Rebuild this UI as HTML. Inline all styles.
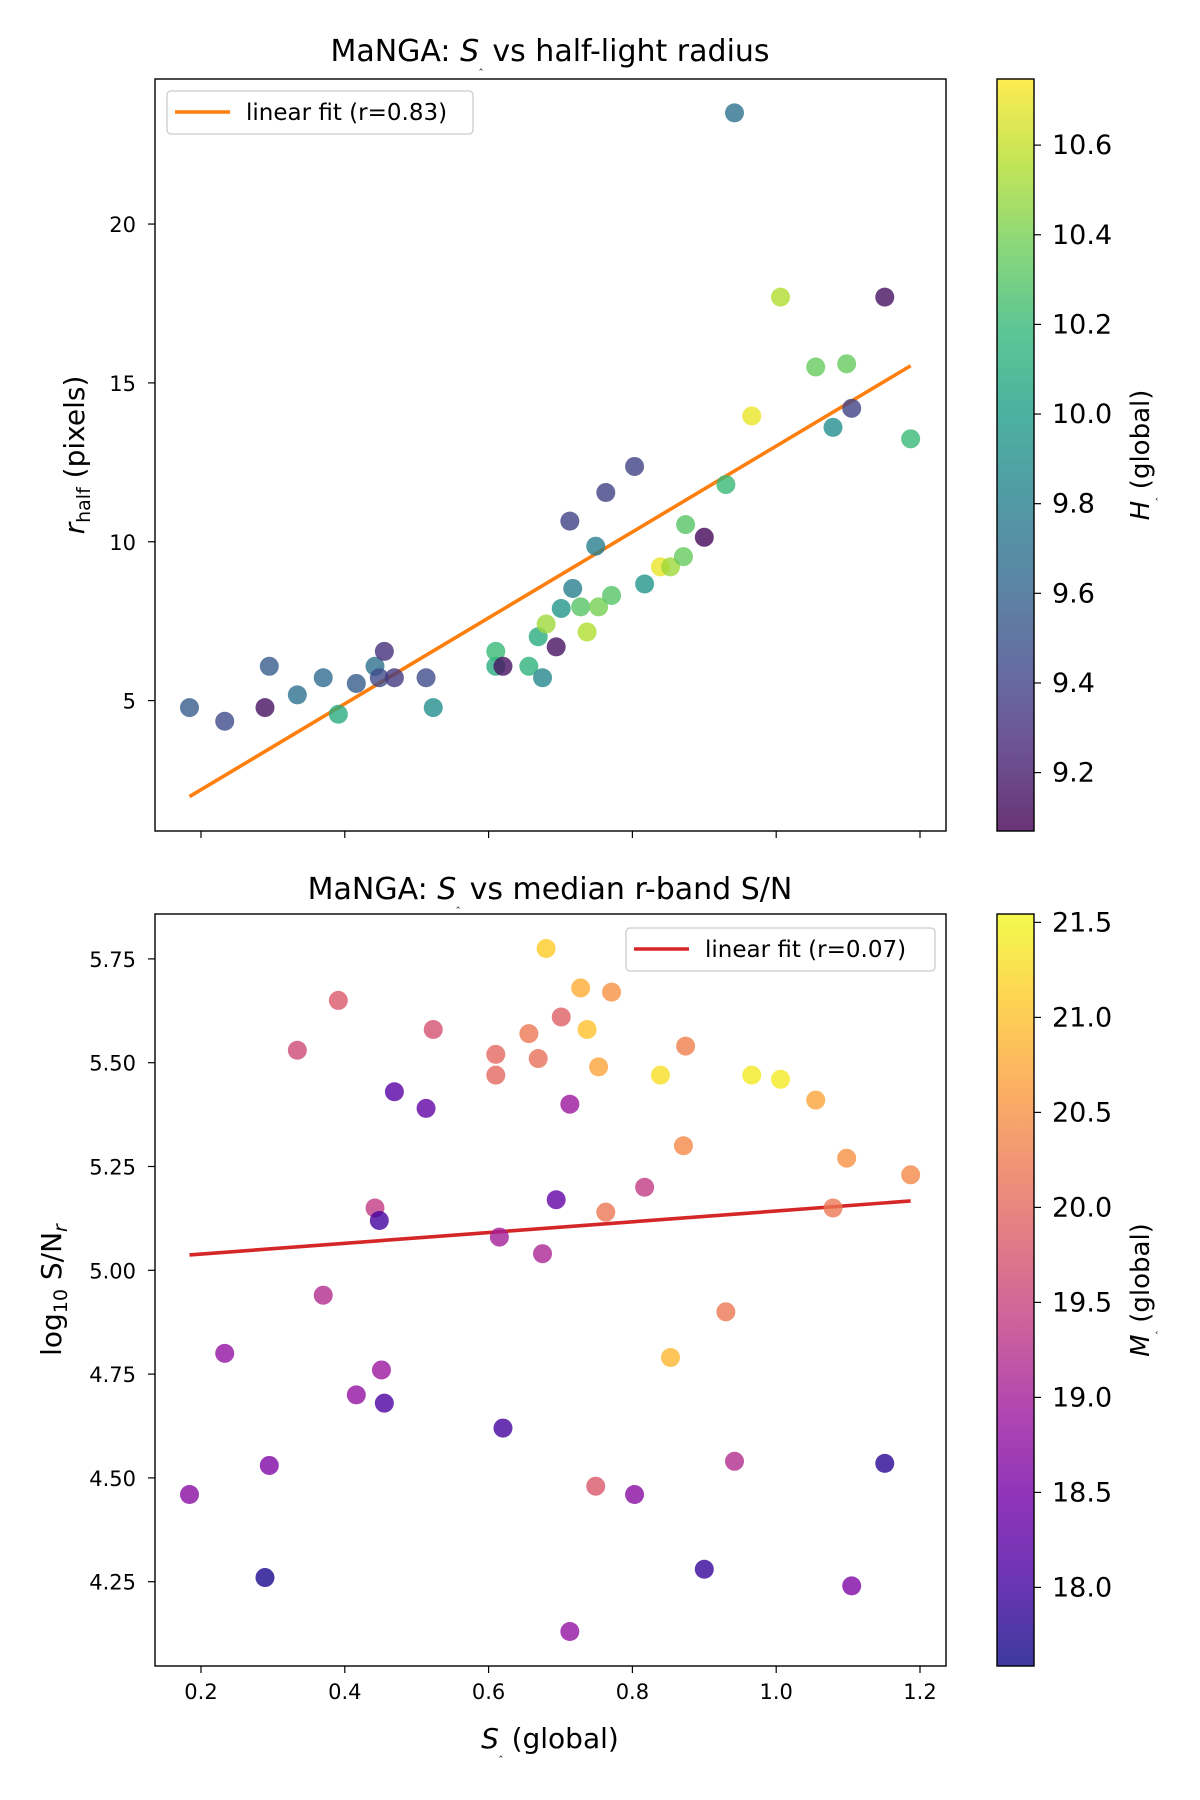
<!DOCTYPE html>
<html><head><meta charset="utf-8"><style>
html,body{margin:0;padding:0;background:#fff}
svg{display:block;font-family:"DejaVu Sans","Liberation Sans",sans-serif}
</style></head><body>
<svg id="c" width="1200" height="1800" viewBox="0 0 1200 1800" xmlns="http://www.w3.org/2000/svg">
<rect width="1200" height="1800" fill="#fff"/>
</svg>
<script>
// ---- data ----
const sTop = [0.184,0.233,0.289,0.295,0.334,0.37,0.391,0.416,0.442,0.448,0.455,0.469,0.513,0.523,0.61,0.61,0.62,0.656,0.669,0.675,0.68,0.694,0.701,0.713,0.717,0.728,0.737,0.749,0.753,0.763,0.771,0.803,0.817,0.839,0.853,0.871,0.874,0.9,0.93,0.942,0.966,1.006,1.055,1.079,1.098,1.105,1.151,1.187];
const rHalf = [4.78,4.35,4.78,6.08,5.18,5.72,4.57,5.54,6.08,5.72,6.55,5.72,5.72,4.78,6.08,6.55,6.08,6.08,7.01,5.72,7.41,6.69,7.9,10.65,8.53,7.95,7.16,9.86,7.95,11.55,8.31,12.37,8.67,9.21,9.21,9.53,10.54,10.14,11.8,23.5,13.96,17.7,15.5,13.6,15.6,14.2,17.7,13.24];
const hGlobal = [9.55,9.45,9.15,9.55,9.7,9.65,10.1,9.55,9.7,9.45,9.3,9.35,9.45,9.9,10.1,10.2,9.15,10.15,10.1,9.85,10.5,9.15,9.95,9.4,9.8,10.3,10.55,9.8,10.4,9.4,10.3,9.4,9.95,10.7,10.5,10.35,10.3,9.1,10.2,9.7,10.7,10.55,10.35,9.9,10.35,9.4,9.15,10.2];
const sBot = [0.184,0.233,0.289,0.295,0.334,0.37,0.391,0.416,0.442,0.448,0.451,0.455,0.469,0.513,0.523,0.61,0.61,0.615,0.62,0.656,0.669,0.675,0.68,0.694,0.701,0.713,0.713,0.728,0.737,0.749,0.753,0.763,0.771,0.803,0.817,0.839,0.853,0.871,0.874,0.9,0.93,0.942,0.966,1.006,1.055,1.079,1.098,1.105,1.151,1.187];
const snr = [4.46,4.80,4.26,4.53,5.53,4.94,5.65,4.70,5.15,5.12,4.76,4.68,5.43,5.39,5.58,5.52,5.47,5.08,4.62,5.57,5.51,5.04,5.775,5.17,5.61,5.40,4.13,5.68,5.58,4.48,5.49,5.14,5.67,4.46,5.20,5.47,4.79,5.30,5.54,4.28,4.90,4.54,5.47,5.46,5.41,5.15,5.27,4.24,4.535,5.23];
const mGlobal = [18.7,18.8,17.7,18.6,19.6,19.2,19.8,18.8,19.4,18.0,18.9,18.1,18.2,18.3,19.7,20.0,20.0,19.0,18.0,20.2,20.1,19.1,21.1,18.3,19.9,18.9,18.8,20.8,21.0,19.8,20.7,20.2,20.5,18.7,19.4,21.3,20.9,20.4,20.3,17.9,20.2,19.2,21.4,21.4,20.7,20.2,20.5,18.6,17.8,20.4];
const fitTopS = [0.184,1.187];
const fitTopR = [1.98,15.54];
const fitBotS = [0.184,1.187];
const fitBotV = [5.037,5.167];
const xTicks = [0.2,0.4,0.6,0.8,1.0,1.2];
const xTickLabels = ["0.2","0.4","0.6","0.8","1.0","1.2"];
const yTopTicks = [5,10,15,20];
const yBotTicks = [4.25,4.5,4.75,5.0,5.25,5.5,5.75];
const cbTopTicks = [9.2,9.4,9.6,9.8,10.0,10.2,10.4,10.6];
const cbBotTicks = [18.0,18.5,19.0,19.5,20.0,20.5,21.0,21.5];

// ---- scales ----
const X = s => 201 + (s - 0.2) * 719;
const YT = r => 700.6 - (r - 5) * 31.77;
const YB = v => 1581.7 - (v - 4.25) * 415.2;
const CT = v => 772.6 - (v - 9.2) * 448.2;
const CB = v => 1587.4 - (v - 18) * 190.0;
const hMin = 9.07, hMax = 10.748, mMin = 17.586, mMax = 21.544;

const viridis = [[68,1,84],[72,40,120],[62,74,137],[49,104,142],[38,130,142],[31,158,137],[53,183,121],[109,205,89],[180,222,44],[253,231,37]];
const plasma = [[13,8,135],[70,3,159],[114,1,168],[156,23,158],[189,55,134],[216,87,107],[237,121,83],[251,159,58],[253,202,38],[240,249,33]];
function cmap(stops, t){
  t = Math.max(0, Math.min(1, t));
  const f = t * (stops.length - 1), i = Math.min(Math.floor(f), stops.length - 2), u = f - i;
  const a = stops[i], b = stops[i+1];
  return `rgb(${a.map((v,k)=>Math.round(v+(b[k]-v)*u)).join(',')})`;
}

const NS = "http://www.w3.org/2000/svg";
const svg = document.getElementById('c');
function el(tag, attrs, parent){
  const e = document.createElementNS(NS, tag);
  for (const k in attrs) e.setAttribute(k, attrs[k]);
  (parent || svg).appendChild(e);
  return e;
}
function txt(x, y, s, size, anchor, parent, extra){
  const t = el('text', Object.assign({x:x, y:y, 'font-size':size, 'text-anchor':anchor||'middle', fill:'#000'}, extra||{}), parent);
  t.textContent = s;
  return t;
}

const defs = el('defs', {});
function grad(id, stops){
  const g = el('linearGradient', {id:id, x1:0, y1:1, x2:0, y2:0}, defs);
  stops.forEach((c,i)=>el('stop', {offset:(i/(stops.length-1)), 'stop-color':`rgb(${c.join(',')})`, 'stop-opacity':0.8}, g));
}
grad('gv', viridis); grad('gp', plasma);

function panel(name, y0, y1, yTicks, Yf, yFmt, showXLabels){
  const g = el('g', {});
  
  
  el('rect', {x:155, y:y0, width:791, height:y1-y0, fill:'none', stroke:'#000', 'stroke-width':1.4}, g);
  xTicks.forEach((v,i)=>{
    el('line', {x1:X(v), x2:X(v), y1:y1, y2:y1+7, stroke:'#000', 'stroke-width':1.2}, g);
    if (showXLabels){
      const t = txt(X(v), y1+33, xTickLabels[i], 21, 'middle', g);
      
      
    }
  });
  yTicks.forEach(v=>{
    el('line', {x1:148, x2:155, y1:Yf(v), y2:Yf(v), stroke:'#000', 'stroke-width':1.2}, g);
    const t = txt(136, Yf(v)+8, yFmt(v), 21, 'end', g);
    
    
  });
  return g;
}

// ---- top panel ----
const gTop = panel('top-axes', 79, 831, yTopTicks, YT, v=>String(v), false);
const lt = el('line', {x1:X(fitTopS[0]), y1:YT(fitTopR[0]), x2:X(fitTopS[1]), y2:YT(fitTopR[1]), stroke:'#ff7f0e', 'stroke-width':3.6});


sTop.forEach((s,i)=>{
  const c = el('circle', {cx:X(s), cy:YT(rHalf[i]), r:9.5, fill:cmap(viridis,(hGlobal[i]-hMin)/(hMax-hMin)), 'fill-opacity':0.8});
  
  
});

// ---- bottom panel ----
const gBot = panel('bottom-axes', 914, 1666, yBotTicks, YB, v=>v.toFixed(2), true);
const lb = el('line', {x1:X(fitBotS[0]), y1:YB(fitBotV[0]), x2:X(fitBotS[1]), y2:YB(fitBotV[1]), stroke:'#d62728', 'stroke-width':3.6});


sBot.forEach((s,i)=>{
  const c = el('circle', {cx:X(s), cy:YB(snr[i]), r:9.5, fill:cmap(plasma,(mGlobal[i]-mMin)/(mMax-mMin)), 'fill-opacity':0.8});
  
  
});

// ---- legends ----
function legend(name, x, y, w, color, label){
  const g = el('g', {});
  
  
  el('rect', {x:x, y:y, width:w, height:43, rx:4, fill:'#fff', 'fill-opacity':0.8, stroke:'#ccc', 'stroke-width':1.3}, g);
  el('line', {x1:x+8, x2:x+63, y1:y+21, y2:y+21, stroke:color, 'stroke-width':3.6}, g);
  txt(x+79, y+29, label, 23, 'start', g);
}
legend('legend-top', 167, 91, 306, '#ff7f0e', 'linear fit (r=0.83)');
legend('legend-bottom', 626, 928, 309, '#d62728', 'linear fit (r=0.07)');

// ---- colorbars ----
function colorbar(name, y0, y1, gid, ticks, Cf, fmt){
  const g = el('g', {});
  
  
  el('rect', {x:997, y:y0, width:37, height:y1-y0, fill:`url(#${gid})`, stroke:'#000', 'stroke-width':1.4}, g);
  ticks.forEach(v=>{
    el('line', {x1:1034, x2:1041, y1:Cf(v), y2:Cf(v), stroke:'#000', 'stroke-width':1.2}, g);
    txt(1052, Cf(v)+9, fmt(v), 27, 'start', g);
  });
}
colorbar('colorbar-h', 79, 831, 'gv', cbTopTicks, CT, v=>v.toFixed(1));
colorbar('colorbar-m', 914, 1666, 'gp', cbBotTicks, CB, v=>v.toFixed(1));
</script>
<script>
(function(){
  const svg = document.getElementById('c');
  const add = (html)=>svg.insertAdjacentHTML('beforeend', html);
  add('<text x="550" y="61" font-size="30" text-anchor="middle">MaNGA: <tspan font-style="italic">S</tspan><tspan font-size="11" dy="7">‸</tspan><tspan dy="-7"> vs half-light radius</tspan></text>');
  add('<text x="550" y="899" font-size="30" text-anchor="middle">MaNGA: <tspan font-style="italic">S</tspan><tspan font-size="11" dy="7">‸</tspan><tspan dy="-7"> vs median r-band S/N</tspan></text>');
  add('<text transform="translate(84,455) rotate(-90)" font-size="28" text-anchor="middle"><tspan font-style="italic">r</tspan><tspan font-size="19" dy="6">half</tspan><tspan dy="-6"> (pixels)</tspan></text>');
  add('<text transform="translate(61,1290) rotate(-90)" font-size="28" text-anchor="middle">log<tspan font-size="19" dy="6">10</tspan><tspan dy="-6"> S/N</tspan><tspan font-size="19" font-style="italic" dy="6">r</tspan></text>');
  add('<text x="550" y="1748" font-size="28" text-anchor="middle"><tspan font-style="italic">S</tspan><tspan font-size="11" dy="7">‸</tspan><tspan dy="-7"> (global)</tspan></text>');
  add('<text transform="translate(1149,455) rotate(-90)" font-size="26" text-anchor="middle"><tspan font-style="italic">H</tspan><tspan font-size="10" dy="6">‸</tspan><tspan dy="-6"> (global)</tspan></text>');
  add('<text transform="translate(1149,1290) rotate(-90)" font-size="26" text-anchor="middle"><tspan font-style="italic">M</tspan><tspan font-size="10" dy="6">‸</tspan><tspan dy="-6"> (global)</tspan></text>');
})();
</script>
</body></html>
